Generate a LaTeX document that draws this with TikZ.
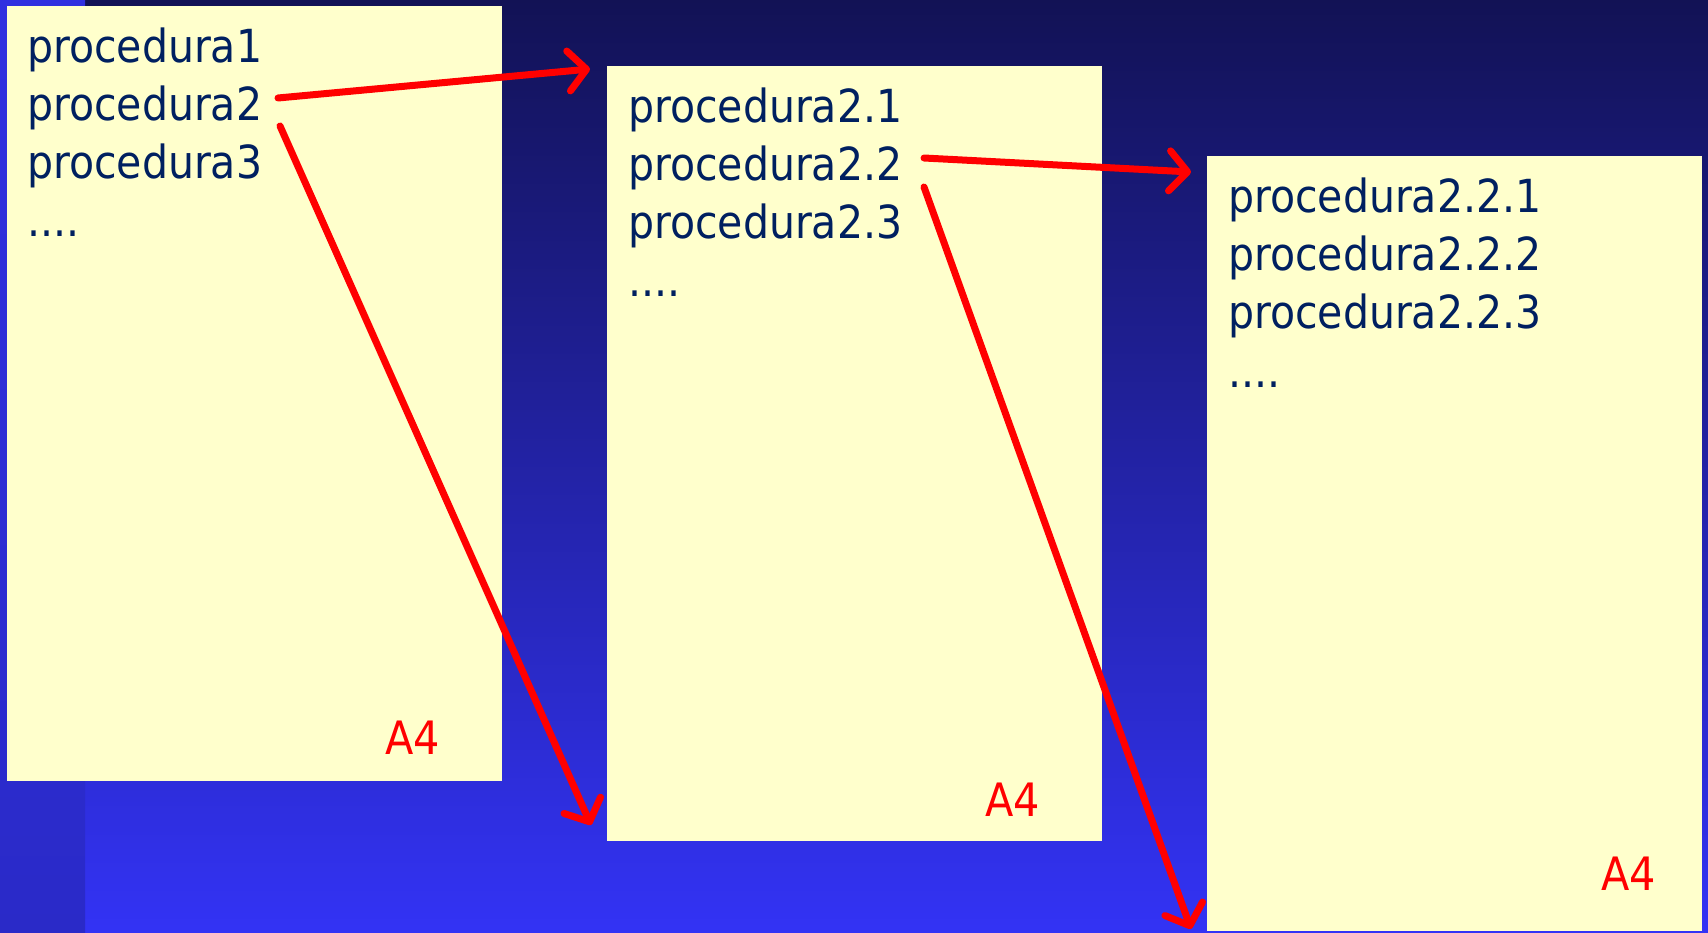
\documentclass[tikz,border=0pt]{standalone}
\usepackage{fontspec}
\setmainfont{DejaVu Sans Condensed}
\usetikzlibrary{arrows.meta}
\definecolor{bgtop}{HTML}{121255}
\definecolor{bgbot}{HTML}{3333F5}
\definecolor{striptop}{HTML}{3030E0}
\definecolor{stripmid}{HTML}{04041A}
\definecolor{stripbot}{HTML}{2A2AC8}
\definecolor{paper}{HTML}{FFFFCC}
\definecolor{ink}{HTML}{002060}
\definecolor{redline}{HTML}{FF0000}
\tikzset{
  page/.style={fill=paper, draw=none},
  line/.style={font=\fontsize{45.6}{54}\selectfont, text=ink, anchor=base west, inner sep=0pt},
  a4/.style={font=\fontsize{46}{54}\selectfont, text=redline, anchor=base east, inner sep=0pt},
  link/.style={draw=redline, line width=7pt, line cap=round,
    -{Straight Barb[length=18pt, width=40pt, line cap=round, line join=round]}},
}
\begin{document}
\begin{tikzpicture}[x=1pt, y=-1pt]
\useasboundingbox (0,0) rectangle (1708,933);
% background
\shade[top color=bgtop, bottom color=bgbot] (0,0) rectangle (1708,933);
\shade[top color=striptop, middle color=stripmid, bottom color=stripbot] (0,0) rectangle (85,933);
% pages
\path[page] (7,6) rectangle (502,781);
\path[page] (607,66) rectangle (1102,841);
\path[page] (1207,156) rectangle (1702,931);
% page 1
\node[line] (p1) at (27,63) {procedura1};
\node[line] (p2) at (27,121) {procedura2};
\node[line] (p3) at (27,179) {procedura3};
\node[line] (p4) at (27,237) {....};
\node[a4] (a1) at (440,754) {A4};
% page 2
\node[line] (q1) at (628,123) {procedura2.1};
\node[line] (q2) at (628,181) {procedura2.2};
\node[line] (q3) at (628,239) {procedura2.3};
\node[line] (q4) at (628,297) {....};
\node[a4] (a2) at (1040,816) {A4};
% page 3
\node[line] (r1) at (1228,213) {procedura2.2.1};
\node[line] (r2) at (1228,271) {procedura2.2.2};
\node[line] (r3) at (1228,329) {procedura2.2.3};
\node[line] (r4) at (1228,387) {....};
\node[a4] (a3) at (1656,890) {A4};
% arrow ends
\coordinate (s1) at (278,98);
\coordinate (s2) at (280,126);
\coordinate (e1) at (590,69);
\coordinate (e2) at (591,825);
\coordinate (s3) at (924,158);
\coordinate (s4) at (924,187);
\coordinate (e3) at (1191,172);
\coordinate (e4) at (1191,929);
\draw[link] (s1) -- (e1);
\draw[link] (s2) -- (e2);
\draw[link] (s3) -- (e3);
\draw[link] (s4) -- (e4);
\end{tikzpicture}
\end{document}
